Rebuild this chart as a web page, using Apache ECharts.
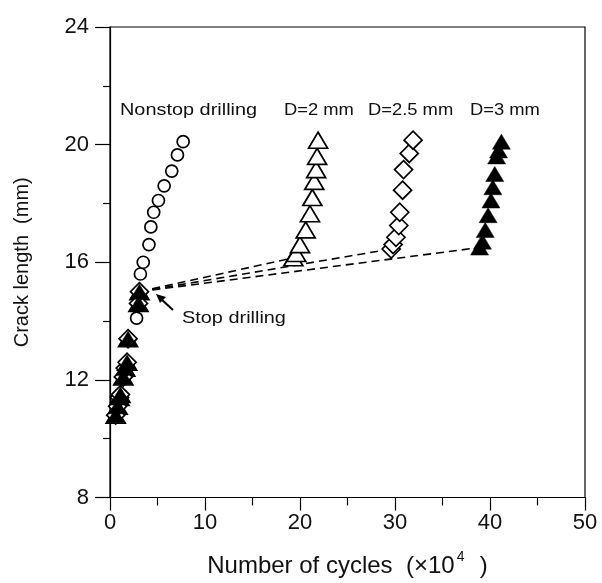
<!DOCTYPE html>
<html lang="en">
<head>
    <meta charset="UTF-8">
    <title>Crack length vs cycles</title>
    <style>
        html, body { margin: 0; padding: 0; background: #fff; }
        #main { width: 602px; height: 583px; }
    </style>
</head>
<body>
<div id="main"></div>
<script src="https://cdn.jsdelivr.net/npm/echarts@6/dist/echarts.min.js"></script>
<script>
    // cycles (x10^4) and crack length (mm)
    var preX = [0.6, 0.8, 1.0, 1.1, 1.4, 1.6, 1.8, 1.9, 3.0, 3.1];
    var preY = [10.8, 11.1, 11.4, 11.5, 12.1, 12.4, 12.6, 13.4, 14.6, 15.0];

    var nonstopX = [2.8, 3.2, 3.5, 4.1, 4.3, 4.6, 5.1, 5.7, 6.5, 7.1, 7.7];
    var nonstopY = [14.1, 15.6, 16.0, 16.6, 17.2, 17.7, 18.1, 18.6, 19.1, 19.65, 20.1];

    var d2X = [19.3, 19.6, 20.0, 20.6, 21.05, 21.3, 21.5, 21.7, 21.8, 21.9];
    var d2Y = [16.15, 16.3, 16.6, 17.1, 17.65, 18.2, 18.75, 19.15, 19.6, 20.15];

    var d25X = [29.6, 29.8, 30.1, 30.4, 30.5, 30.8, 30.9, 31.5, 31.9];
    var d25Y = [16.45, 16.6, 16.85, 17.25, 17.7, 18.45, 19.15, 19.7, 20.15];

    var d3X = [38.9, 39.2, 39.5, 39.8, 40.1, 40.3, 40.5, 40.7, 40.9, 41.2];
    var d3Y = [16.5, 16.7, 17.1, 17.6, 18.1, 18.55, 19.0, 19.6, 19.8, 20.1];

    var xTicks = [0, 10, 20, 30, 40, 50];
    var yTicks = [8, 12, 16, 20, 24];

    var FONT = 'Liberation Sans';

    function pairs(xs, ys) {
        var out = [];
        for (var i = 0; i < xs.length; i++) out.push([xs[i], ys[i]]);
        return out;
    }

    var pre = pairs(preX, preY);
    var stopPoint = pre[pre.length - 1];

    function markerSeries(name, data, symbol, size, filled) {
        return {
            name: name,
            type: 'scatter',
            data: data,
            symbol: symbol,
            symbolSize: size,
            itemStyle: {
                color: filled ? '#000' : '#fff',
                borderColor: '#000',
                borderWidth: filled ? 0.5 : 1.7,
                opacity: 1
            },
            z: 3
        };
    }

    function connector(target) {
        return {
            type: 'line',
            data: [stopPoint, target],
            symbol: 'none',
            silent: true,
            lineStyle: { color: '#000', width: 1.6, type: [8, 5] },
            z: 2
        };
    }

    function note(text, left, top, sx) {
        return {
            type: 'text', left: left, top: top, scaleX: sx,
            style: { text: text, fontSize: 17, fontFamily: FONT, fill: '#111' }
        };
    }

    var series = [];
    series.push(connector([d2X[0], d2Y[0]]));
    series.push(connector([d25X[0], d25Y[0]]));
    series.push(connector([d3X[0], d3Y[0]]));
    series.push(markerSeries('Nonstop drilling', pre.concat(pairs(nonstopX, nonstopY)), 'circle', 12, false));
    series.push(markerSeries('D=2 mm', pre.concat(pairs(d2X, d2Y)), 'triangle', [19, 16], false));
    series.push(markerSeries('D=2.5 mm', pre.concat(pairs(d25X, d25Y)), 'diamond', [18, 18], false));
    series.push(markerSeries('D=3 mm', pre.concat(pairs(d3X, d3Y)), 'triangle', [18, 15], true));

    var option = {
        backgroundColor: '#fff',
        animation: false,
        textStyle: { fontFamily: FONT },
        grid: {
            left: 110, right: 17, top: 27, bottom: 85,
            show: true, borderColor: '#000', borderWidth: 1.2
        },
        xAxis: {
            type: 'value',
            min: xTicks[0], max: xTicks[xTicks.length - 1], interval: 10,
            name: '{a|Number of cycles  (×10}{s|4}{a|  )}',
            nameLocation: 'middle', nameGap: 53,
            nameTextStyle: {
                rich: {
                    a: { fontSize: 24, color: '#111', fontFamily: FONT },
                    s: { fontSize: 14, color: '#111', fontFamily: FONT, padding: [0, 2, 17, 2] }
                }
            },
            axisLine: { lineStyle: { color: '#000', width: 1.2 } },
            axisTick: { inside: false, length: 13, lineStyle: { color: '#000', width: 1.2 } },
            minorTick: { show: true, splitNumber: 2, length: 8, lineStyle: { color: '#000', width: 1.2 } },
            axisLabel: { fontSize: 22, color: '#111', margin: 14, fontFamily: FONT },
            splitLine: { show: false }
        },
        yAxis: {
            type: 'value',
            min: yTicks[0], max: yTicks[yTicks.length - 1], interval: 4,
            name: 'Crack length  (mm)',
            nameLocation: 'middle', nameGap: 78,
            nameTextStyle: { fontSize: 20, color: '#111', fontFamily: FONT },
            axisLine: { lineStyle: { color: '#000', width: 1.2 } },
            axisTick: { inside: false, length: 15, lineStyle: { color: '#000', width: 1.2 } },
            minorTick: { show: true, splitNumber: 2, length: 7, lineStyle: { color: '#000', width: 1.2 } },
            axisLabel: { fontSize: 22, color: '#111', margin: 21, fontFamily: FONT },
            splitLine: { show: false }
        },
        graphic: [
            note('Nonstop drilling', 120, 102, 1.17),
            note('D=2 mm', 284, 102, 1.08),
            note('D=2.5 mm', 368, 102, 1.08),
            note('D=3 mm', 470, 102, 1.08),
            note('Stop drilling', 182, 310, 1.17),
            { type: 'line', shape: { x1: 173, y1: 310, x2: 161, y2: 299 }, style: { stroke: '#000', lineWidth: 2 } },
            { type: 'polygon', shape: { points: [[156, 294], [166, 297], [160, 303]] }, style: { fill: '#000' } }
        ],
        series: series
    };

    var chart = echarts.init(document.getElementById('main'));
    chart.setOption(option);
</script>
</body>
</html>
